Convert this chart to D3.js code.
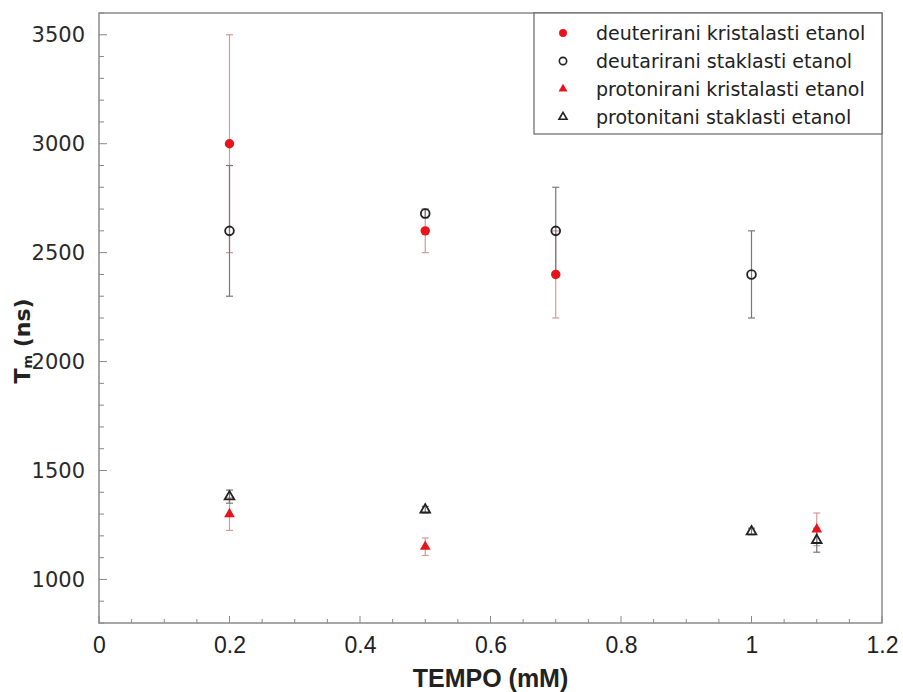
<!DOCTYPE html>
<html>
<head>
<meta charset="utf-8">
<script src="https://cdn.jsdelivr.net/npm/d3@7"></script>
<style>
  body { margin: 0; background: #fff; }
  svg { display: block; }
</style>
</head>
<body>
<div id="chart-area"></div>
<script>
const MARGIN = { LEFT: 99, RIGHT: 21, TOP: 13, BOTTOM: 69 }
const WIDTH = 903 - MARGIN.LEFT - MARGIN.RIGHT
const HEIGHT = 692 - MARGIN.TOP - MARGIN.BOTTOM

// data
const seriesNames = [
  "deuterirani kristalasti etanol",
  "deutarirani staklasti etanol",
  "protonirani kristalasti etanol",
  "protonitani staklasti etanol"
]
const dKrisX = [0.2, 0.5, 0.7]
const dKrisY = [3000, 2600, 2400]
const dKrisErr = [500, 100, 200]

const dStakX = [0.2, 0.5, 0.7, 1.0]
const dStakY = [2600, 2680, 2600, 2400]
const dStakErr = [300, 20, 200, 200]

const pKrisX = [0.2, 0.5, 1.1]
const pKrisY = [1300, 1150, 1230]
const pKrisErr = [75, 40, 75]

const pStakX = [0.2, 0.5, 1.0, 1.1]
const pStakY = [1380, 1320, 1220, 1180]
const pStakErr = [30, 15, 15, 55]

const xTicks = [0, 0.2, 0.4, 0.6, 0.8, 1, 1.2]
const yTicks = [1000, 1500, 2000, 2500, 3000, 3500]

const RED = "#e8141c"
const DARK = "#222"

const svg = d3.select("#chart-area").append("svg")
  .attr("width", WIDTH + MARGIN.LEFT + MARGIN.RIGHT)
  .attr("height", HEIGHT + MARGIN.TOP + MARGIN.BOTTOM)

const g = svg.append("g")
  .attr("transform", `translate(${MARGIN.LEFT}, ${MARGIN.TOP})`)

const x = d3.scaleLinear().domain([0, 1.2]).range([0, WIDTH])
const y = d3.scaleLinear().domain([800, 3600]).range([HEIGHT, 0])

// frame
g.append("rect")
  .attr("width", WIDTH)
  .attr("height", HEIGHT)
  .attr("fill", "none")
  .attr("stroke", "#8a8a8a")
  .attr("stroke-width", 1.5)

// minor ticks (inward)
const xMinor = d3.range(0, 1.2001, 0.05).map(d => +d.toFixed(2))
g.append("g").selectAll("line").data(xMinor).join("line")
  .attr("x1", d => x(d)).attr("x2", d => x(d))
  .attr("y1", HEIGHT).attr("y2", d => HEIGHT - (Math.abs(d * 5 - Math.round(d * 5)) < 1e-6 ? 7 : 4))
  .attr("stroke", "#888")

const yMinor = d3.range(800, 3601, 100)
g.append("g").selectAll("line").data(yMinor).join("line")
  .attr("x1", 0).attr("x2", d => d % 500 === 0 ? 8 : 5)
  .attr("y1", d => y(d)).attr("y2", d => y(d))
  .attr("stroke", "#888")

// axes (labels only)
const xAxisGroup = g.append("g")
  .attr("transform", `translate(0, ${HEIGHT})`)
  .call(d3.axisBottom(x).tickValues(xTicks).tickSize(0).tickPadding(14).tickFormat(d3.format("~g")))
xAxisGroup.select(".domain").remove()
xAxisGroup.selectAll("text")
  .attr("font-family", "'Liberation Sans Narrow', 'Liberation Sans', sans-serif")
  .attr("font-size", "23px")
  .attr("fill", "#222")

const yAxisGroup = g.append("g")
  .call(d3.axisLeft(y).tickValues(yTicks).tickSize(0).tickPadding(14).tickFormat(d3.format("d")))
yAxisGroup.select(".domain").remove()
yAxisGroup.selectAll("text")
  .attr("font-family", "'DejaVu Sans', sans-serif")
  .attr("font-size", "21px")
  .attr("fill", "#2a2a2a")

// X label
g.append("text")
  .attr("x", WIDTH / 2)
  .attr("y", HEIGHT + 64)
  .attr("font-family", "'Liberation Sans Narrow', 'Liberation Sans', sans-serif")
  .attr("font-weight", "bold")
  .attr("font-size", "25px")
  .attr("text-anchor", "middle")
  .attr("fill", "#222")
  .text("TEMPO (mM)")

// Y label
const yLabel = g.append("text")
  .attr("transform", `translate(${-69}, 328) rotate(-90)`)
  .attr("font-family", "'DejaVu Sans', sans-serif")
  .attr("font-weight", "bold")
  .attr("font-size", "22px")
  .attr("text-anchor", "middle")
  .attr("fill", "#222")
yLabel.append("tspan").text("T")
yLabel.append("tspan").attr("font-size", "13px").attr("dy", 2).text("m")
yLabel.append("tspan").attr("dy", -2).text(" (ns)")

const series = [
  { xs: dKrisX, ys: dKrisY, es: dKrisErr, shape: d3.symbolCircle, fill: RED, stroke: "none", err: "#d29a9a", size: 70 },
  { xs: dStakX, ys: dStakY, es: dStakErr, shape: d3.symbolCircle, fill: "none", stroke: DARK, err: "#777", size: 60 },
  { xs: pKrisX, ys: pKrisY, es: pKrisErr, shape: d3.symbolTriangle, fill: RED, stroke: "none", err: "#d29a9a", size: 50 },
  { xs: pStakX, ys: pStakY, es: pStakErr, shape: d3.symbolTriangle, fill: "none", stroke: DARK, err: "#777", size: 40 }
]

// error bars first
series.forEach(s => {
  const pts = s.xs.map((xv, i) => ({ x: xv, y: s.ys[i], e: s.es[i] }))
  const eg = g.append("g").attr("stroke", s.err).attr("stroke-width", 1.2)
  eg.selectAll(".v").data(pts).join("line")
    .attr("x1", d => x(d.x)).attr("x2", d => x(d.x))
    .attr("y1", d => y(d.y - d.e)).attr("y2", d => y(d.y + d.e))
  eg.selectAll(".t").data(pts).join("line")
    .attr("x1", d => x(d.x) - 3.5).attr("x2", d => x(d.x) + 3.5)
    .attr("y1", d => y(d.y + d.e)).attr("y2", d => y(d.y + d.e))
  eg.selectAll(".b").data(pts).join("line")
    .attr("x1", d => x(d.x) - 3.5).attr("x2", d => x(d.x) + 3.5)
    .attr("y1", d => y(d.y - d.e)).attr("y2", d => y(d.y - d.e))
})

// markers
series.forEach(s => {
  const pts = s.xs.map((xv, i) => ({ x: xv, y: s.ys[i] }))
  g.append("g").selectAll("path").data(pts).join("path")
    .attr("d", d3.symbol().type(s.shape).size(s.size))
    .attr("transform", d => `translate(${x(d.x)}, ${y(d.y)})`)
    .attr("fill", s.fill)
    .attr("stroke", s.stroke)
    .attr("stroke-width", 1.8)
})

// legend
const legend = g.append("g").attr("transform", `translate(${WIDTH - 348}, 0)`)
legend.append("rect")
  .attr("width", 348)
  .attr("height", 121)
  .attr("fill", "#fff")
  .attr("stroke", "#666")
  .attr("stroke-width", 1.2)

seriesNames.forEach((name, i) => {
  const s = series[i]
  const row = legend.append("g").attr("transform", `translate(0, ${20 + i * 28})`)
  row.append("path")
    .attr("d", d3.symbol().type(s.shape).size(s.size * 0.7))
    .attr("transform", "translate(29, 0)")
    .attr("fill", s.fill)
    .attr("stroke", s.stroke)
    .attr("stroke-width", 1.6)
  row.append("text")
    .attr("x", 62)
    .attr("dy", "0.35em")
    .attr("font-family", "'DejaVu Sans', sans-serif")
    .attr("font-size", "19px")
    .attr("fill", "#222")
    .text(name)
})
</script>
</body>
</html>
